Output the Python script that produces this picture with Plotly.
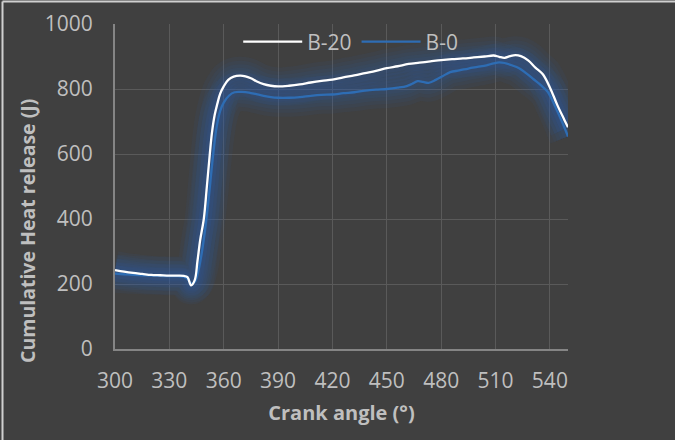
import plotly.graph_objects as go

# Crank angle (deg) and cumulative heat release (J) for the two blends
angle_b20 = [300, 305, 310, 315, 320, 325, 330, 335, 338, 340, 342, 344, 345.5, 347,
             349, 350.7, 352, 353.5, 355, 356.5, 358, 360, 362.5, 365.5, 369, 372,
             375, 378, 382, 386, 390, 396, 402, 408, 414, 420, 426, 432, 438, 444,
             450, 456, 462, 468, 474, 480, 486, 492, 498, 504, 509, 512, 515, 518,
             521, 524, 528, 532, 536, 540, 544, 548, 550]
heat_b20 = [243, 238, 234, 231, 228, 227, 226, 226, 225, 221, 196, 212, 270, 335,
            400, 500, 580, 665, 720, 755, 785, 808, 828, 838, 841, 839,
            833, 824, 815, 810, 808, 810, 814, 820, 825, 829, 836, 842, 849, 856,
            864, 870, 877, 881, 885, 889, 892, 894, 897, 900, 903, 899, 896, 901,
            904, 901, 888, 866, 846, 805, 752, 705, 682]

angle_b0 = [300, 305, 310, 315, 320, 325, 330, 335, 338, 340, 342, 344, 346, 348,
            350, 352, 354, 356, 358, 360, 363, 366, 370, 374, 378, 382, 386, 390,
            396, 402, 408, 414, 420, 426, 432, 438, 444, 450, 456, 461, 464, 467,
            470, 473, 477, 481, 485, 490, 495, 500, 505, 509, 512, 515, 519, 523,
            527, 531, 535, 539, 543, 547, 550]
heat_b0 = [232, 230, 228, 227, 226, 225, 224, 224, 222, 216, 202, 206, 240, 300,
           380, 480, 590, 680, 732, 758, 780, 790, 791, 789, 784, 779, 775, 773,
           773, 775, 779, 782, 783, 787, 790, 795, 798, 800, 804, 809, 816, 824,
           822, 819, 828, 840, 852, 857, 863, 868, 873, 879, 882, 880, 873, 864,
           848, 830, 812, 790, 745, 695, 654]

x_ticks = [300, 330, 360, 390, 420, 450, 480, 510, 540]
y_ticks = [0, 200, 400, 600, 800, 1000]

BG = "#404040"
TEXT = "#bfbfbf"
GRID = "#5a5a5a"
BLUE = "#2e6db4"
GLOW = "rgba(40,100,180,0.07)"

fig = go.Figure()

# soft blue halo under both curves
for xs, ys in [(angle_b0, heat_b0), (angle_b20, heat_b20)]:
    for w in [38, 30, 23, 16, 10]:
        fig.add_trace(go.Scatter(x=xs, y=ys, mode="lines",
                                 line=dict(color=GLOW, width=w, shape="spline"),
                                 showlegend=False, hoverinfo="skip"))

fig.add_trace(go.Scatter(x=angle_b0, y=heat_b0, mode="lines", name="B-0",
                         line=dict(color=BLUE, width=2.3, shape="spline"),
                         legendrank=2))
fig.add_trace(go.Scatter(x=angle_b20, y=heat_b20, mode="lines", name="B-20",
                         line=dict(color="#ffffff", width=2.3, shape="spline"),
                         legendrank=1))

axis_common = dict(showgrid=True, gridcolor=GRID, gridwidth=1.3, zeroline=False,
                   showline=True, linecolor="#858585", linewidth=2,
                   ticks="outside", tickcolor="rgba(0,0,0,0)",
                   tickfont=dict(family="Open Sans", size=21, color=TEXT))

fig.update_xaxes(range=[300, 550], tickvals=x_ticks, ticklen=12,
                 title=dict(text="Crank angle (°)", standoff=13,
                            font=dict(family="Open Sans", size=20, color=TEXT,
                                      weight="bold")),
                 **axis_common)
fig.update_yaxes(range=[0, 1000], tickvals=y_ticks, ticklen=16, **axis_common)

# chart frame along the top and left edges
frame_x = (2.5 - 115) / 453
frame_y = 1 + 22.5 / 325

fig.update_layout(
    width=675, height=440,
    margin=dict(l=115, r=107, t=24, b=91, autoexpand=False),
    paper_bgcolor=BG, plot_bgcolor=BG,
    font=dict(family="Open Sans", color=TEXT),
    legend=dict(orientation="h", x=0.272, y=0.945, xanchor="left", yanchor="middle",
                bgcolor="rgba(0,0,0,0)", itemwidth=59,
                font=dict(family="Open Sans", size=21, color=TEXT)),
    annotations=[dict(text="<b>Cumulative Heat release (J)</b>", textangle=-90,
                      xref="paper", yref="paper", x=(27 - 115) / 453,
                      y=(349 - 231) / 325, xanchor="center", yanchor="middle",
                      showarrow=False,
                      font=dict(family="Open Sans", size=19.5, color=TEXT))],
    shapes=[dict(type="line", xref="paper", yref="paper",
                 x0=frame_x, x1=(676 - 115) / 453, y0=frame_y, y1=frame_y,
                 line=dict(color="#d0d0d0", width=2), layer="below"),
            dict(type="line", xref="paper", yref="paper",
                 x0=frame_x, x1=frame_x, y0=frame_y, y1=-92 / 325,
                 line=dict(color="#d0d0d0", width=2), layer="below")],
)

fig.write_html("out.html")
